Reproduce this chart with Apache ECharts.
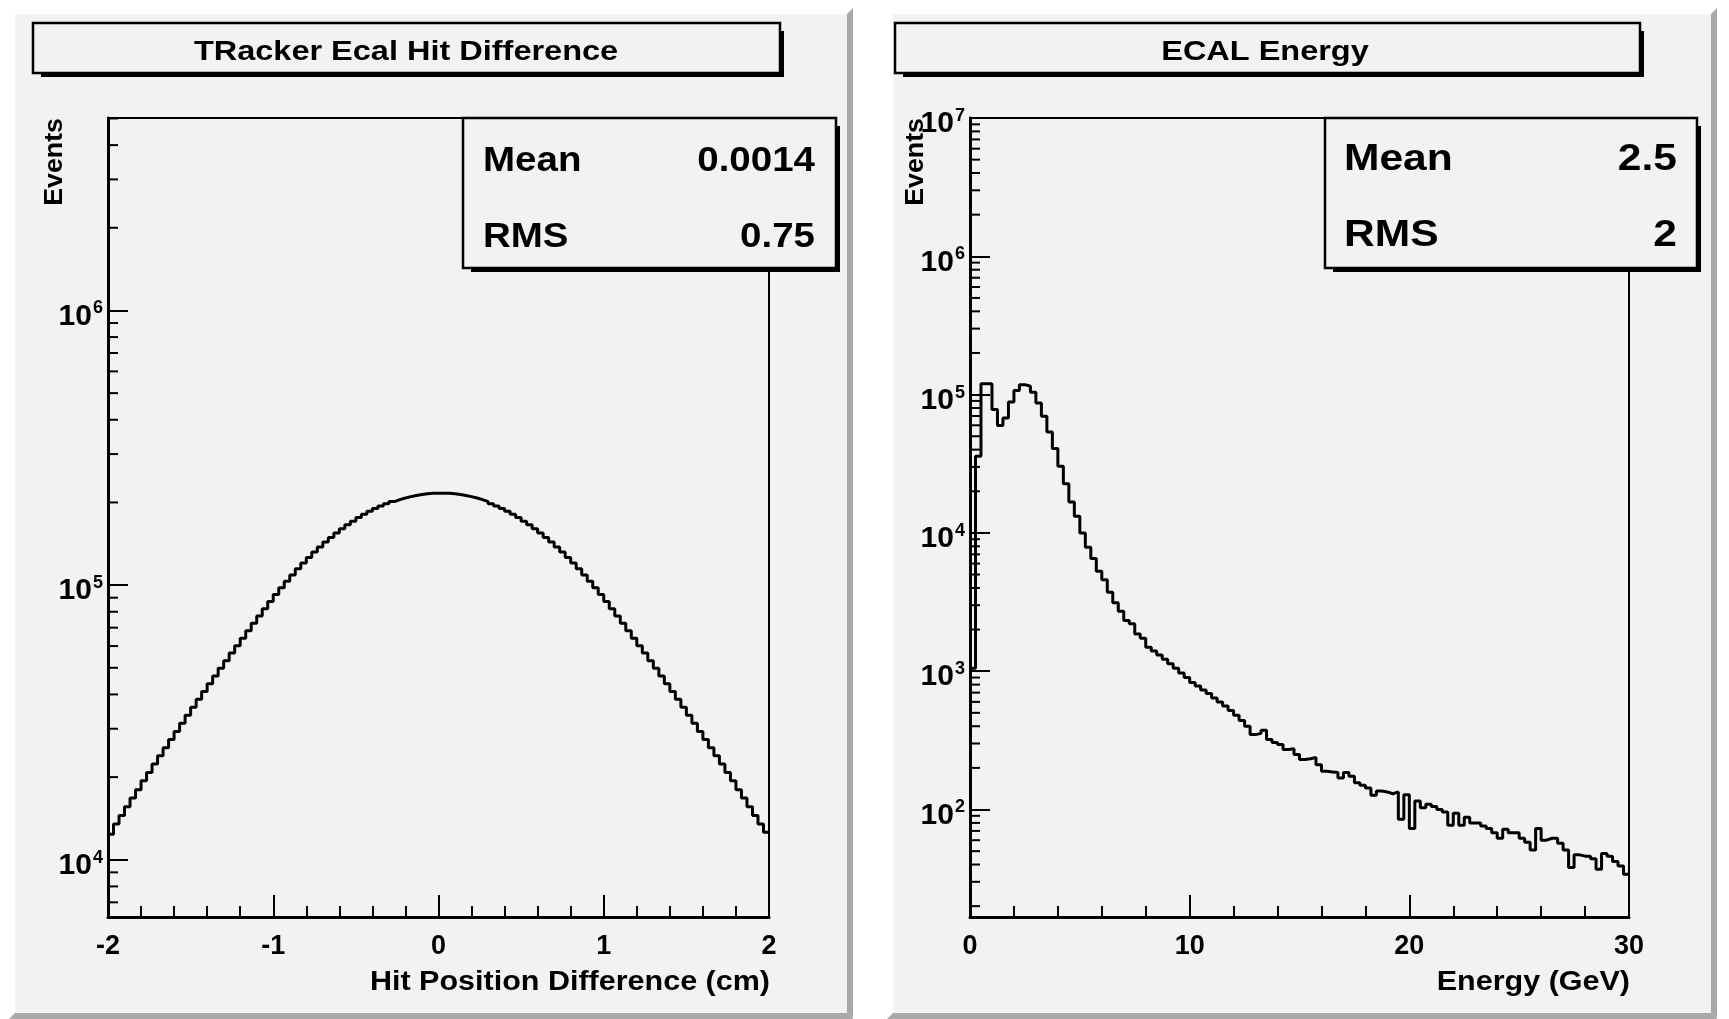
<!DOCTYPE html>
<html>
<head>
<meta charset="utf-8">
<title>Tracker / ECAL histograms</title>
<script src="https://cdn.jsdelivr.net/npm/echarts@6/dist/echarts.min.js"></script>
<style>
  html, body { margin: 0; padding: 0; background: #ffffff; }
  #chart { width: 1729px; height: 1019px; }
</style>
</head>
<body>
<div id="chart"></div>
<script>
// ---- histogram contents ----
const hitRange = [-2, 2];
const hitCounts = [
  12400, 13500, 14500, 15600, 16800, 18000, 19400, 20800, 22300, 23900,
  25600, 27400, 29300, 31400, 33600, 35900, 38400, 41000, 43700, 46700,
  49800, 53100, 56600, 60200, 64100, 68200, 72600, 77200, 82000, 87100,
  92400, 97800, 103300, 108900, 114600, 120300, 126100, 131900, 137700, 143500,
  149200, 154800, 160300, 165800, 171000, 176100, 181000, 185700, 190100, 194200,
  198000, 201500, 204700, 207600, 210000, 212100, 213700, 215000, 215800, 216200,
  216200, 215800, 215000, 213700, 212100, 210000, 207600, 204700, 201500, 198000,
  194200, 190100, 185700, 181000, 176100, 171000, 165800, 160300, 154800, 149200,
  143500, 137700, 131900, 126100, 120300, 114600, 108900, 103300, 97800, 92400,
  87100, 82000, 77200, 72600, 68200, 64100, 60200, 56600, 53100, 49800,
  46700, 43700, 41000, 38400, 35900, 33600, 31400, 29300, 27400, 25600,
  23900, 22300, 20800, 19400, 18000, 16800, 15600, 14500, 13500, 12600
];
const hitYRange = [6190, 5.02e6];

const energyRange = [0, 30];
const energyCounts = [
  1050, 35800, 120000, 120000, 78000, 59700, 67800, 88500, 107000, 118000,
  115000, 104000, 87000, 69700, 53700, 40700, 30300, 22700, 16700, 13200,
  10000, 7870, 6520, 5270, 4590, 3720, 3120, 2710, 2330, 2200,
  1860, 1730, 1490, 1400, 1310, 1220, 1130, 1050, 970, 900,
  830, 780, 730, 690, 640, 600, 560, 520, 480, 440,
  400, 348, 355, 374, 321, 305, 295, 272, 275, 250,
  230, 233, 238, 211, 189, 187, 185, 169, 185, 174,
  156, 150, 143, 127, 136, 134, 130, 134, 85, 128,
  73, 115, 103, 109, 105, 100, 96, 77, 94, 77,
  88, 80, 80, 76, 73, 68, 62, 72, 68, 68,
  62, 58, 51, 73, 60, 62, 62, 57, 51, 38,
  47, 46, 46, 44, 37, 48, 46, 42, 39, 34
];
const energyYRange = [16.7, 1e7];

// ---- text ----
const titles = ['TRacker Ecal Hit Difference', 'ECAL Energy'];
const xNames = ['Hit Position Difference (cm)', 'Energy (GeV)'];
const yName = 'Events';
const statNames = ['Mean', 'RMS'];
const hitStats = ['0.0014', '0.75'];
const energyStats = ['2.5', '2'];

// ---- helpers ----
const FONT = '"Liberation Sans", Arial, Helvetica, sans-serif';
const PAD = '#f2f2f2';
const SHADE = '#a9a9a9';

// outline points of a step histogram: left edge of every bin plus the last right edge
function stepData(range, counts) {
  const w = (range[1] - range[0]) / counts.length;
  const pts = counts.map((c, i) => [range[0] + i * w, c]);
  pts.push([range[1], counts[counts.length - 1]]);
  return pts;
}

// 2..9 x 10^n inside a log range
function logMinorTicks(yr) {
  const out = [];
  for (let e = Math.floor(Math.log10(yr[0])); e <= Math.ceil(Math.log10(yr[1])); e++) {
    for (let k = 2; k <= 9; k++) {
      const v = k * Math.pow(10, e);
      if (v > yr[0] && v < yr[1]) out.push(v);
    }
  }
  return out;
}

function powLabel(v) {
  const e = Math.round(Math.log10(v));
  return Math.abs(v / Math.pow(10, e) - 1) < 1e-6 ? '{b|10}{s|' + e + '}' : '';
}

const grids = [
  { left: 108, top: 118, width: 661, height: 799 },
  { left: 970, top: 118, width: 659, height: 799 }
];

function xAxisFor(i, range, interval) {
  return {
    type: 'value', gridIndex: i, min: range[0], max: range[1], interval: interval,
    axisLine: { show: true, onZero: false, lineStyle: { color: '#000', width: 3 } },
    axisTick: { show: true, inside: true, length: 22, lineStyle: { color: '#000', width: 2 } },
    minorTick: { show: true, splitNumber: 5, length: 11, lineStyle: { color: '#000', width: 2 } },
    splitLine: { show: false }, minorSplitLine: { show: false },
    axisLabel: { color: '#000', fontFamily: FONT, fontWeight: 'bold', fontSize: 27, margin: 16,
                 showMinLabel: true, showMaxLabel: true }
  };
}

function yAxisFor(i, yr) {
  return {
    type: 'log', logBase: 10, gridIndex: i, min: yr[0], max: yr[1],
    axisLine: { show: true, onZero: false, lineStyle: { color: '#000', width: 3 } },
    axisTick: { show: true, inside: true, length: 20, lineStyle: { color: '#000', width: 2 } },
    splitLine: { show: false },
    axisLabel: {
      margin: 5, formatter: powLabel, padding: [10, 0, 0, 0],
      rich: {
        b: { fontFamily: FONT, fontWeight: 'bold', fontSize: 30, color: '#000', lineHeight: 32, verticalAlign: 'bottom' },
        s: { fontFamily: FONT, fontWeight: 'bold', fontSize: 18, color: '#000', lineHeight: 18, verticalAlign: 'top', padding: [0, 0, 17, 1] }
      }
    }
  };
}

function histSeries(i, range, counts) {
  return {
    type: 'line', xAxisIndex: i, yAxisIndex: i, step: 'end',
    data: stepData(range, counts), showSymbol: false, symbol: 'none',
    lineStyle: { color: '#000', width: 3 }, clip: true, silent: true, z: 5
  };
}

function minorTickSeries(i, xMin, yr) {
  return {
    type: 'custom', xAxisIndex: i, yAxisIndex: i, silent: true, z: 4,
    data: logMinorTicks(yr).map(v => [xMin, v]),
    renderItem: function (params, api) {
      const p = api.coord([api.value(0), api.value(1)]);
      return { type: 'line', shape: { x1: p[0], y1: p[1], x2: p[0] + 10, y2: p[1] },
               style: { stroke: '#000', lineWidth: 2 } };
    }
  };
}

// ---- decorations: pads, title boxes, stat boxes, axis titles ----
function pad(x0, y0, x1, y1) {
  const b = 6;
  return [
    { type: 'rect', z: -10, shape: { x: x0, y: y0, width: x1 - x0, height: y1 - y0 }, style: { fill: PAD } },
    { type: 'polygon', z: -9, shape: { points: [[x0 - b, y0 - b], [x1 + b, y0 - b], [x1, y0], [x0, y0]] }, style: { fill: '#ffffff' } },
    { type: 'polygon', z: -9, shape: { points: [[x0 - b, y0 - b], [x0, y0], [x0, y1], [x0 - b, y1 + b]] }, style: { fill: '#ffffff' } },
    { type: 'polygon', z: -9, shape: { points: [[x1, y0], [x1 + b, y0 - b], [x1 + b, y1 + b], [x1, y1]] }, style: { fill: SHADE } },
    { type: 'polygon', z: -9, shape: { points: [[x0 - b, y1 + b], [x0, y1], [x1, y1], [x1 + b, y1 + b]] }, style: { fill: SHADE } }
  ];
}

function shadowBox(x0, y0, x1, y1, z) {
  return [
    { type: 'rect', z: z, shape: { x: x0 + 8, y: y0 + 8, width: x1 - x0 - 4, height: y1 - y0 - 4 }, style: { fill: '#000' } },
    { type: 'rect', z: z + 1, shape: { x: x0, y: y0, width: x1 - x0, height: y1 - y0 },
      style: { fill: PAD, stroke: '#000', lineWidth: 2.5 } }
  ];
}

function label(text, x, y, size, align, vAlign, sx, z, rot) {
  return {
    type: 'text', x: x, y: y, z: z || 50, scaleX: sx || 1, rotation: rot || 0,
    style: { text: text, fill: '#000', font: 'bold ' + size + 'px ' + FONT, align: align, verticalAlign: vAlign }
  };
}

const graphics = [].concat(
  pad(15, 14, 847, 1013),
  pad(893, 14, 1711, 1013),
  shadowBox(33, 23, 780, 73, 20),
  shadowBox(895, 23, 1640, 73, 20),
  [label(titles[0], 406, 52, 28, 'center', 'middle', 1.16, 30),
   label(titles[1], 1265, 52, 28, 'center', 'middle', 1.16, 30)],
  shadowBox(463, 118, 836, 268, 60),
  shadowBox(1325, 118, 1697, 268, 60),
  [label(statNames[0], 483, 161, 35, 'left', 'middle', 1.1, 70),
   label(hitStats[0], 815, 161, 35, 'right', 'middle', 1.1, 70),
   label(statNames[1], 483, 237, 35, 'left', 'middle', 1.1, 70),
   label(hitStats[1], 815, 237, 35, 'right', 'middle', 1.1, 70),
   label(statNames[0], 1344, 160, 37, 'left', 'middle', 1.15, 70),
   label(energyStats[0], 1677, 160, 37, 'right', 'middle', 1.15, 70),
   label(statNames[1], 1344, 236, 37, 'left', 'middle', 1.15, 70),
   label(energyStats[1], 1677, 236, 37, 'right', 'middle', 1.15, 70)],
  [label(xNames[0], 770, 983, 27, 'right', 'middle', 1.13, 30),
   label(xNames[1], 1630, 983, 27, 'right', 'middle', 1.13, 30),
   label(yName, 55, 118, 26, 'right', 'middle', 1.03, 30, Math.PI / 2),
   label(yName, 916, 118, 26, 'right', 'middle', 1.03, 30, Math.PI / 2)]
);

const chart = echarts.init(document.getElementById('chart'), null, { renderer: 'canvas' });
chart.setOption({
  animation: false,
  backgroundColor: '#ffffff',
  grid: grids.map(g => Object.assign({ show: true, borderColor: '#000', borderWidth: 2,
                                        backgroundColor: 'transparent', containLabel: false,
                                        outerBoundsMode: 'none' }, g)),
  xAxis: [xAxisFor(0, hitRange, 1), xAxisFor(1, energyRange, 10)],
  yAxis: [yAxisFor(0, hitYRange), yAxisFor(1, energyYRange)],
  series: [
    histSeries(0, hitRange, hitCounts),
    histSeries(1, energyRange, energyCounts),
    minorTickSeries(0, hitRange[0], hitYRange),
    minorTickSeries(1, energyRange[0], energyYRange)
  ],
  graphic: { elements: graphics }
});
</script>
</body>
</html>
